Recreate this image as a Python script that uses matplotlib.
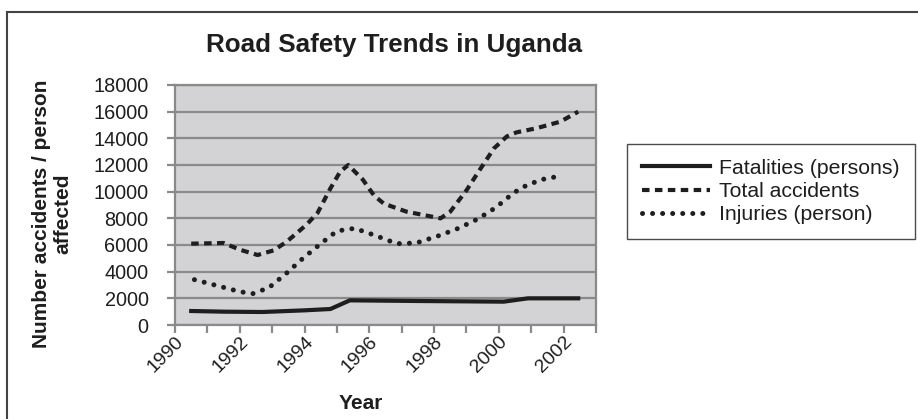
import matplotlib
matplotlib.use('Agg')
import matplotlib.pyplot as plt
from matplotlib.lines import Line2D

plt.rcParams['font.family'] = ['Liberation Sans', 'DejaVu Sans']

# values (x in years, positions are continuous)
fatal_years = [1990.5, 1991.5, 1992.7, 1994.0, 1994.8, 1995.4, 1997.5, 2000.15, 2000.9, 2002.45]
fatal_vals = [1050, 1000, 975, 1100, 1200, 1850, 1800, 1750, 2000, 2000]

acc_years = [1990.5, 1991.5, 1992.0, 1992.55, 1993.05, 1993.45, 1994.05, 1994.4, 1994.8,
             1995.1, 1995.35, 1995.8, 1996.15, 1996.45, 1997.15, 1998.2, 1998.5, 1999.0,
             1999.4, 1999.85, 2000.25, 2000.55, 2001.15, 2001.9, 2002.45]
acc_vals = [6100, 6150, 5650, 5250, 5600, 6250, 7500, 8400, 10250,
            11500, 12000, 10900, 9700, 9100, 8500, 8000, 8500, 10100,
            11600, 13250, 14150, 14450, 14750, 15250, 16000]

inj_years = [1990.6, 1991.3, 1992.0, 1992.4, 1992.9, 1993.45, 1993.95, 1994.5, 1995.0,
             1995.55, 1996.2, 1996.85, 1997.45, 1998.15, 1998.75, 1999.35, 1999.9, 2000.4,
             2000.7, 2001.3, 2001.95]
inj_vals = [3400, 2950, 2500, 2350, 2800, 3900, 5000, 6100, 7050,
            7250, 6700, 6100, 6150, 6700, 7250, 7950, 8800, 9800,
            10300, 10900, 11200]

year_ticks = list(range(1990, 2004))
year_labels = [str(y) if y % 2 == 0 and y < 2003 else '' for y in year_ticks]
y_ticks = list(range(0, 18001, 2000))

ink = '#1e1e1e'
grey = '#8a8a8a'

fig = plt.figure(figsize=(9.18, 4.19), dpi=100)
ax = fig.add_axes([175 / 918, 1 - 325 / 419, 421 / 918, 240 / 419])
ax.set_facecolor('#d3d3d5')

ax.plot(fatal_years, fatal_vals, color=ink, lw=3.0, solid_joinstyle='round',
        label='Fatalities (persons)')
ax.plot(acc_years, acc_vals, color=ink, lw=3.0, linestyle=(0, (1.8, 1.3)),
        label='Total accidents')
ax.plot(inj_years, inj_vals, color=ink, lw=3.6, linestyle=(0, (0.01, 2.0)),
        dash_capstyle='round', label='Injuries (person)')

ax.set_xlim(1990, 2003)
ax.set_ylim(0, 18000)
ax.set_xticks(year_ticks)
ax.set_xticklabels(year_labels, rotation=45, ha='right', rotation_mode='anchor',
                   fontsize=14, color=ink)
ax.set_yticks(y_ticks)
ax.set_yticklabels([str(v) for v in y_ticks], fontsize=14.3, color=ink)
ax.yaxis.grid(True, color=grey, lw=1.6)
ax.set_axisbelow(True)
ax.tick_params(axis='both', direction='out', length=6, width=1.6, color=grey)
ax.tick_params(axis='y', pad=13)
ax.tick_params(axis='x', pad=0)
for side in ['top', 'right', 'left', 'bottom']:
    ax.spines[side].set_color(grey)
    ax.spines[side].set_linewidth(1.6)

fig.text(394 / 918, 1 - 45 / 419, 'Road Safety Trends in Uganda', fontsize=18.7,
         fontweight='bold', ha='center', va='center', color=ink)
fig.text(52 / 918, 1 - 214 / 419, 'Number accidents / person\naffected', fontsize=15,
         fontweight='bold', rotation=90, ha='center', va='center',
         multialignment='center', color=ink, linespacing=1.15)
fig.text(361 / 918, 1 - 403 / 419, 'Year', fontsize=15, fontweight='bold',
         ha='center', va='center', color=ink)

leg = fig.legend(loc='upper left', bbox_to_anchor=(627 / 918, 1 - 144 / 419),
                 fontsize=15.3, frameon=True, fancybox=False, handlelength=3.2,
                 handletextpad=0.45, labelspacing=0.2, borderpad=0.7,
                 borderaxespad=0)
leg.get_frame().set_edgecolor(ink)
leg.get_frame().set_linewidth(1.0)
for t in leg.get_texts():
    t.set_color(ink)

# outer frame of the original figure (left and top edges only are visible)
fig.add_artist(Line2D([7 / 918, 7 / 918], [0, 1 - 12 / 419], color='#444444', lw=1.5))
fig.add_artist(Line2D([7 / 918, 1], [1 - 12 / 419, 1 - 12 / 419], color='#444444', lw=1.5))

fig.savefig('out.png', dpi=100)
